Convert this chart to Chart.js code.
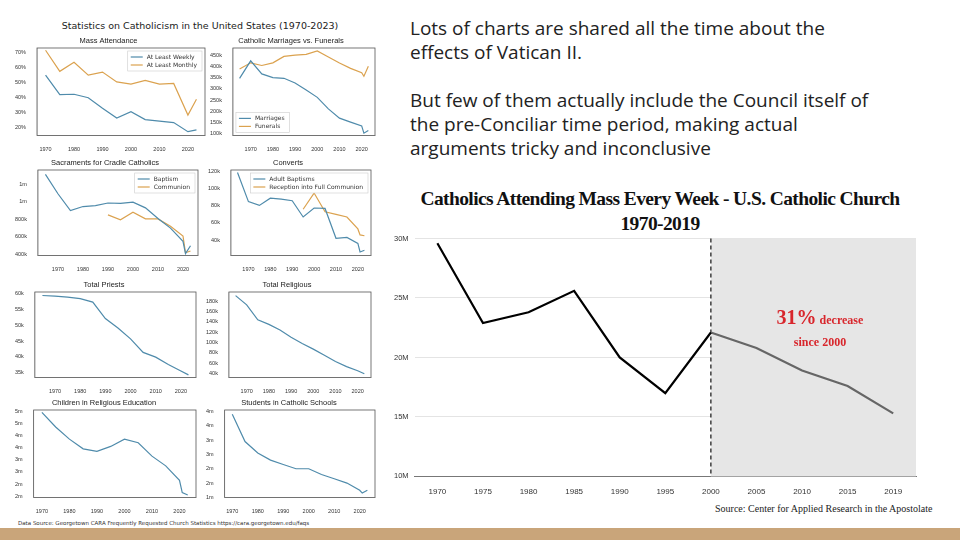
<!DOCTYPE html>
<html><head><meta charset="utf-8">
<script src="https://cdn.jsdelivr.net/npm/chart.js@4"></script>
<style>
body{margin:0;width:960px;height:540px;background:#fff;position:relative;overflow:hidden;font-family:"DejaVu Sans",sans-serif}
.box{position:absolute}
#sup{position:absolute;left:0;width:400px;top:20px;text-align:center;font-size:9.5px;color:#222}
#src{position:absolute;left:18px;top:520px;font-size:5.5px;color:#333}
#txt{position:absolute;left:410px;top:16px;width:475px;font-family:"Open Sans",sans-serif;font-size:19px;line-height:24px;color:#222}
#bigT{position:absolute;left:380px;top:186px;width:560px;text-align:center;font-family:"Liberation Serif",serif;font-weight:bold;font-size:19.5px;line-height:25px;letter-spacing:-0.6px;color:#111}
#note{position:absolute;left:760px;top:306px;width:120px;text-align:center;font-family:"Liberation Serif",serif;font-weight:bold;color:#d8262c;font-size:12px;line-height:22px}
#bsrc{position:absolute;left:715px;top:503px;font-family:"Liberation Serif",serif;font-size:10px;color:#222}
#bar{position:absolute;left:0;top:528px;width:960px;height:12px;background:#c9a57a}
</style></head><body>
<div id="sup">Statistics on Catholicism in the United States (1970-2023)</div>
<div class="box" style="left:12px;top:36px;width:195px;height:120px"><canvas id="c1"></canvas></div>
<div class="box" style="left:207px;top:36px;width:170px;height:120px"><canvas id="c2"></canvas></div>
<div class="box" style="left:12px;top:158px;width:188px;height:118px"><canvas id="c3"></canvas></div>
<div class="box" style="left:205px;top:158px;width:168px;height:118px"><canvas id="c4"></canvas></div>
<div class="box" style="left:12px;top:280px;width:186px;height:118px"><canvas id="c5"></canvas></div>
<div class="box" style="left:203px;top:280px;width:170px;height:118px"><canvas id="c6"></canvas></div>
<div class="box" style="left:12px;top:398px;width:186px;height:120px"><canvas id="c7"></canvas></div>
<div class="box" style="left:203px;top:398px;width:174px;height:120px"><canvas id="c8"></canvas></div>
<div id="src">Data Source: Georgetown CARA Frequently Requested Church Statistics https://cara.georgetown.edu/faqs</div>
<div id="txt">Lots of charts are shared all the time about the effects of Vatican II.<br><br>But few of them actually include the Council itself of the pre-Conciliar time period, making actual arguments tricky and inconclusive</div>
<div id="bigT">Catholics Attending Mass Every Week - U.S. Catholic Church<br>1970-2019</div>
<div class="box" style="left:388px;top:228px;width:540px;height:272px"><canvas id="big"></canvas></div>
<div id="note"><span style="font-size:20px">31%</span> decrease<br>since 2000</div>
<div id="bsrc">Source: Center for Applied Research in the Apostolate</div>
<div id="bar"></div>
<script>
// small multiples data
const attYears = [1970,1975,1980,1985,1990,1995,2000,2005,2010,2015,2020,2023];
const weekly = [55,42,42.3,40,33,26.5,30.7,25.5,24.5,23.5,17.5,18.7];
const monthly = [71.5,57.5,63.5,55,57,50.5,49,51.5,49,49.5,28.5,39];

const marYears = [1965,1970,1975,1980,1985,1990,1995,2000,2005,2010,2015,2020,2021,2023];
const marriages = [348,427,368,351,348,327,295,262,210,168,150,133,100,112];
const funerals = [390,418,406,418,447,453,456,472,444,417,393,373,357,402];

const bapYears = [1965,1970,1975,1980,1985,1990,1995,2000,2005,2010,2015,2020,2021,2023];
const baptism = [1.31,1.09,0.9,0.945,0.955,0.985,0.98,0.995,0.93,0.81,0.7,0.55,0.41,0.5];
const comYears = [1990,1995,2000,2005,2010,2015,2020,2021,2023];
const communion = [0.85,0.795,0.88,0.805,0.805,0.72,0.61,0.42,0.44];

const convYears = [1965,1970,1975,1980,1985,1990,1995,2000,2005,2010,2015,2020,2021,2023];
const adultBap = [119,85,80.5,89,88,86,67,77.5,77,42,43,36,26,28];
const recYears = [1995,2000,2005,2010,2015,2020,2021,2023];
const reception = [76,95,73,70,67,53,46,45];

const longYears = [1965,1970,1975,1980,1985,1990,1995,2000,2005,2010,2015,2020,2023];
const priests = [59.4,59.2,58.9,58.4,57.3,52.1,49.1,45.7,41.4,39.9,37.6,35.5,34.3];
const religious = [191,173,144,135,124,110,98,87,75,63,53,45,39];

const eduYears = [1970,1975,1980,1985,1990,1995,2000,2005,2010,2015,2020,2021,2023];
const relEd = [4.95,4.35,3.85,3.45,3.35,3.55,3.85,3.7,3.15,2.75,2.15,1.65,1.55];
const students = [3.9,2.95,2.55,2.3,2.15,2.0,2.0,1.8,1.65,1.5,1.25,1.15,1.25];

const xTicks = [1970,1980,1990,2000,2010,2020];

// big chart
const bigLabels = ['1970','1975','1980','1985','1990','1995','2000','2005','2010','2015','2019'];
const bigValues = [29.6,22.9,23.8,25.6,20,17,22.1,20.8,18.9,17.6,15.3];

const BLUE = '#4f8bab', ORANGE = '#dba24f';
const pts = (xs, ys) => xs.map((x, i) => ({x: x, y: ys[i]}));

// matplotlib-like frame plus a small legend in a corner
const frame = {
  id: 'frame',
  afterDraw(c, args, opts) {
    const a = c.chartArea, g = c.ctx;
    g.save(); g.strokeStyle = '#555'; g.lineWidth = 0.8;
    g.strokeRect(a.left, a.top, a.right - a.left, a.bottom - a.top);
    if (opts.pos) {
      const ds = c.data.datasets;
      g.font = '6px "DejaVu Sans"';
      const w = Math.max(...ds.map(d => g.measureText(d.label).width)) + 24, h = ds.length * 8 + 4;
      const x0 = opts.pos === 'tr' ? a.right - w - 3 : a.left + 3;
      const y0 = opts.pos === 'tr' ? a.top + 3 : a.bottom - h - 3;
      g.fillStyle = 'rgba(255,255,255,0.85)'; g.strokeStyle = '#ccc'; g.lineWidth = 0.6;
      g.fillRect(x0, y0, w, h); g.strokeRect(x0, y0, w, h);
      ds.forEach((d, i) => {
        const y = y0 + 6 + i * 8;
        g.strokeStyle = d.borderColor; g.lineWidth = 1.2;
        g.beginPath(); g.moveTo(x0 + 3, y); g.lineTo(x0 + 15, y); g.stroke();
        g.fillStyle = '#333'; g.textBaseline = 'middle'; g.fillText(d.label, x0 + 19, y);
      });
    }
    g.restore();
  }
};

function small(id, title, datasets, y, legendPos) {
  new Chart(document.getElementById(id), {
    type: 'line',
    data: {datasets: datasets.map(d => ({
      label: d.label, data: d.data, borderColor: d.color,
      borderWidth: 1.2, pointRadius: 0, tension: 0
    }))},
    options: {
      responsive: true, maintainAspectRatio: false, animation: false,
      layout: {padding: {right: 2}},
      plugins: {
        title: {display: true, text: title, color: '#222', font: {size: 7.5, weight: 'normal'}, padding: {top: 0, bottom: 3}},
        legend: {display: false},
        tooltip: {enabled: false},
        frame: {pos: legendPos}
      },
      scales: {
        x: {type: 'linear', min: y.xmin || 1962, max: 2026, grid: {display: false},
          ticks: {font: {size: 5.5}, color: '#333', autoSkip: false, callback: v => v},
          afterBuildTicks: s => { s.ticks = xTicks.map(v => ({value: v})); }},
        y: {min: y.min, max: y.max, grid: {display: false},
          ticks: {font: {size: 5.5}, color: '#333', autoSkip: false, callback: y.fmt},
          afterBuildTicks: s => { s.ticks = y.ticks.map(v => ({value: v})); }}
      }
    },
    plugins: [frame]
  });
}

const kfmt = v => v + 'k';
const mfmt = v => Math.round(v) + 'm';

small('c1', 'Mass Attendance', [
  {label: 'At Least Weekly', data: pts(attYears, weekly), color: BLUE},
  {label: 'At Least Monthly', data: pts(attYears, monthly), color: ORANGE}
], {min: 15, max: 73, ticks: [20,30,40,50,60,70], fmt: v => v + '%', xmin: 1967}, 'tr');
small('c2', 'Catholic Marriages vs. Funerals', [
  {label: 'Marriages', data: pts(marYears, marriages), color: BLUE},
  {label: 'Funerals', data: pts(marYears, funerals), color: ORANGE}
], {min: 90, max: 485, ticks: [100,150,200,250,300,350,400,450], fmt: kfmt}, 'bl');
small('c3', 'Sacraments for Cradle Catholics', [
  {label: 'Baptism', data: pts(bapYears, baptism), color: BLUE},
  {label: 'Communion', data: pts(comYears, communion), color: ORANGE}
], {min: 0.39, max: 1.36, ticks: [0.4,0.6,0.8,1.0,1.2], fmt: v => v >= 1 ? Math.round(v) + 'm' : Math.round(v * 1000) + 'k'}, 'tr');
small('c4', 'Converts', [
  {label: 'Adult Baptisms', data: pts(convYears, adultBap), color: BLUE},
  {label: 'Reception into Full Communion', data: pts(recYears, reception), color: ORANGE}
], {min: 22, max: 122, ticks: [40,60,80,100,120], fmt: kfmt}, 'tr');
small('c5', 'Total Priests', [
  {label: 'Priests', data: pts(longYears, priests), color: BLUE}
], {min: 33.5, max: 60.5, ticks: [35,40,45,50,55,60], fmt: kfmt});
small('c6', 'Total Religious', [
  {label: 'Religious', data: pts(longYears, religious), color: BLUE}
], {min: 32, max: 198, ticks: [40,60,80,100,120,140,160,180], fmt: kfmt});
small('c7', 'Children in Religious Education', [
  {label: 'Religious Education', data: pts(eduYears, relEd), color: BLUE}
], {min: 1.45, max: 5.05, ticks: [1.5,2,2.5,3,3.5,4,4.5,5], fmt: mfmt, xmin: 1967});
small('c8', 'Students in Catholic Schools', [
  {label: 'Students', data: pts(eduYears, students), color: BLUE}
], {min: 1.0, max: 4.05, ticks: [1,1.5,2,2.5,3,3.5,4], fmt: mfmt, xmin: 1967});

// big chart: shaded region + dashed line from 2000
const shade = {
  id: 'shade',
  beforeDatasetsDraw(c) {
    const a = c.chartArea, g = c.ctx, x = c.scales.x.getPixelForValue(6);
    g.save();
    g.fillStyle = '#e6e6e6';
    g.fillRect(x, a.top, a.right - x, a.bottom - a.top);
    g.strokeStyle = '#111'; g.lineWidth = 1.2; g.setLineDash([4, 3]);
    g.beginPath(); g.moveTo(x, a.top); g.lineTo(x, a.bottom); g.stroke();
    g.restore();
  }
};
new Chart(document.getElementById('big'), {
  type: 'line',
  data: {labels: bigLabels, datasets: [
    {data: bigValues.map((v, i) => i <= 6 ? v : null), borderColor: '#000', borderWidth: 2.2, pointRadius: 0, tension: 0},
    {data: bigValues.map((v, i) => i >= 6 ? v : null), borderColor: '#666', borderWidth: 2.2, pointRadius: 0, tension: 0}
  ]},
  options: {
    responsive: true, maintainAspectRatio: false, animation: false,
    layout: {padding: {right: 12}},
    plugins: {legend: {display: false}, tooltip: {enabled: false}},
    scales: {
      x: {offset: true, grid: {display: false}, border: {color: '#777'},
        ticks: {font: {size: 8}, color: '#333'}},
      y: {min: 10, max: 30, grid: {color: '#e4e4e4', drawTicks: false}, border: {display: false},
        ticks: {stepSize: 5, font: {size: 7.5}, color: '#333', padding: 6, callback: v => v + 'M'}}
    }
  },
  plugins: [shade]
});
</script>
</body></html>
